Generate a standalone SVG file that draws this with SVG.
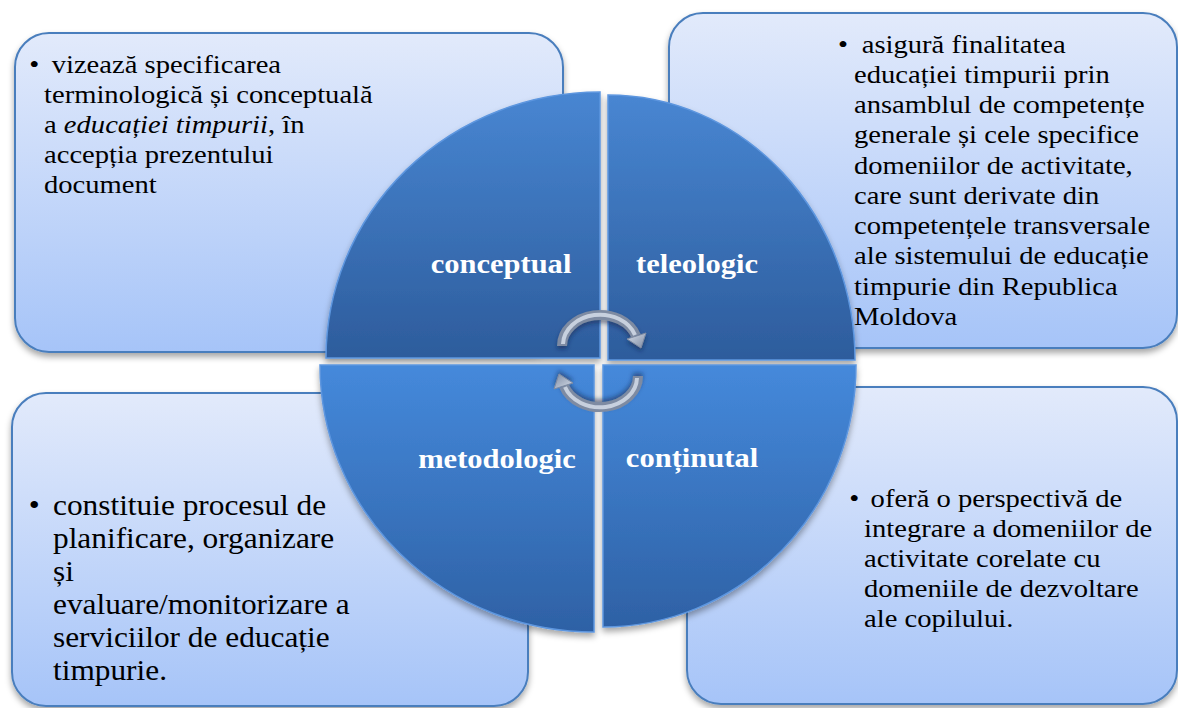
<svg xmlns="http://www.w3.org/2000/svg" width="1178" height="708" viewBox="0 0 1178 708">
<defs>
  <linearGradient id="boxGrad" x1="0" y1="0" x2="0" y2="1">
    <stop offset="0" stop-color="#e2eafb"/>
    <stop offset="1" stop-color="#a6c4f8"/>
  </linearGradient>
  <linearGradient id="qTop" x1="0" y1="0" x2="0" y2="1">
    <stop offset="0" stop-color="#4886d2"/>
    <stop offset="1" stop-color="#2d5c9c"/>
  </linearGradient>
  <linearGradient id="qBot" x1="0" y1="0" x2="0" y2="1">
    <stop offset="0" stop-color="#4589db"/>
    <stop offset="1" stop-color="#2e61a5"/>
  </linearGradient>
  <linearGradient id="headGrad" x1="0" y1="0" x2="1" y2="1">
    <stop offset="0" stop-color="#d6deea"/>
    <stop offset="1" stop-color="#7d8aa2"/>
  </linearGradient>
  <filter id="shadow" x="-10%" y="-10%" width="120%" height="125%">
    <feDropShadow dx="0" dy="4" stdDeviation="3" flood-color="#000" flood-opacity="0.35"/>
  </filter>
  <filter id="ashadow" x="-30%" y="-30%" width="160%" height="160%">
    <feDropShadow dx="0" dy="3" stdDeviation="2" flood-color="#0b1f44" flood-opacity="0.5"/>
  </filter>
  <style>
    .box { fill: url(#boxGrad); stroke: #4a7ebd; stroke-width: 2; filter: url(#shadow); }
    .qt { fill: url(#qTop); stroke: #5d96df; stroke-width: 1.5; filter: url(#shadow); }
    .qb { fill: url(#qBot); stroke: #5d96df; stroke-width: 1.5; filter: url(#shadow); }
    text.lbl { font-family: "Liberation Serif", "Times New Roman", serif; font-size: 27.5px; font-weight: bold; fill: #fff; text-anchor: middle; }
    .arcO { fill: none; stroke: #7e8ba2; stroke-width: 10; }
    .arcI { fill: none; stroke: #c7d0de; stroke-width: 4; }
    .head { fill: url(#headGrad); stroke: #7e8ba2; stroke-width: 1; }
  </style>
</defs>

<g id="box-conceptual">
  <rect class="box" x="15" y="33" width="548" height="319" rx="34" ry="34"/>
  <g transform="translate(44 0) scale(1.1 1)" font-family="Liberation Serif, Times New Roman, serif" font-size="26" fill="#000">
    <text x="-13.5" y="73">•</text>
    <text x="7" y="73">vizează specificarea</text>
    <text x="0" y="103">terminologică și conceptuală</text>
    <text x="0" y="133">a <tspan font-style="italic">educației timpurii</tspan>, în</text>
    <text x="0" y="163">accepția prezentului</text>
    <text x="0" y="193">document</text>
  </g>
</g>

<g id="box-teleologic">
  <rect class="box" x="669" y="13" width="508" height="335" rx="34" ry="34"/>
  <g transform="translate(854 0) scale(1.1 1)" font-family="Liberation Serif, Times New Roman, serif" font-size="26" fill="#000">
    <text x="-14.5" y="53">•</text>
    <text x="7" y="53">asigură finalitatea</text>
    <text x="0" y="83">educației timpurii prin</text>
    <text x="0" y="113">ansamblul de competențe</text>
    <text x="0" y="143">generale și cele specifice</text>
    <text x="0" y="174">domeniilor de activitate,</text>
    <text x="0" y="204">care sunt derivate din</text>
    <text x="0" y="234">competențele transversale</text>
    <text x="0" y="264">ale sistemului de educație</text>
    <text x="0" y="295">timpurie din Republica</text>
    <text x="0" y="325">Moldova</text>
  </g>
</g>

<g id="box-metodologic">
  <rect class="box" x="12" y="393" width="516" height="313" rx="34" ry="34"/>
  <g transform="translate(53 0) scale(1.1 1)" font-family="Liberation Serif, Times New Roman, serif" font-size="28.5" fill="#000">
    <text x="-22" y="515">•</text>
    <text x="0" y="515">constituie procesul de</text>
    <text x="0" y="548">planificare, organizare</text>
    <text x="0" y="581">și</text>
    <text x="0" y="614">evaluare/monitorizare a</text>
    <text x="0" y="647">serviciilor de educație</text>
    <text x="0" y="680">timpurie.</text>
  </g>
</g>

<g id="box-continutal">
  <rect class="box" x="687" y="387" width="490" height="317" rx="34" ry="34"/>
  <g transform="translate(864 0) scale(1.1 1)" font-family="Liberation Serif, Times New Roman, serif" font-size="26" fill="#000">
    <text x="-13.5" y="507">•</text>
    <text x="6" y="507">oferă o perspectivă de</text>
    <text x="0" y="537">integrare a domeniilor de</text>
    <text x="0" y="567">activitate corelate cu</text>
    <text x="0" y="597">domeniile de dezvoltare</text>
    <text x="0" y="627">ale copilului.</text>
  </g>
</g>

<g id="node-conceptual">
  <path class="qt" d="M 600 358 L 326 358 A 274 266 0 0 1 600 92 Z"/>
  <g transform="translate(501 273) scale(1.11 1)"><text class="lbl" x="0" y="0">conceptual</text></g>
</g>
<g id="node-teleologic">
  <path class="qt" d="M 608 360 L 608 95 A 247 265 0 0 1 855 360 Z"/>
  <g transform="translate(697 273) scale(1.11 1)"><text class="lbl" x="0" y="0">teleologic</text></g>
</g>
<g id="node-metodologic">
  <path class="qb" d="M 594 365 L 594 632 A 274 267 0 0 1 320 365 Z"/>
  <g transform="translate(497 468) scale(1.11 1)"><text class="lbl" x="0" y="0">metodologic</text></g>
</g>
<g id="node-continutal">
  <path class="qb" d="M 603 365 L 856 365 A 253 262 0 0 1 603 627 Z"/>
  <g transform="translate(692 467) scale(1.11 1)"><text class="lbl" x="0" y="0">conținutal</text></g>
</g>

<g id="connectors">
  <g id="arrow-top" filter="url(#ashadow)">
    <path class="arcO" d="M 562 346 A 38 31 0 0 1 636 336"/>
    <path class="arcI" d="M 563 344 A 37 30 0 0 1 635 335"/>
    <polygon class="head" points="627,339 646,333 641,348"/>
  </g>
  <g id="arrow-bottom" filter="url(#ashadow)" transform="rotate(180 600 361)">
    <path class="arcO" d="M 562 346 A 38 31 0 0 1 636 336"/>
    <path class="arcI" d="M 563 344 A 37 30 0 0 1 635 335"/>
    <polygon class="head" points="627,339 646,333 641,348"/>
  </g>
</g>
</svg>
